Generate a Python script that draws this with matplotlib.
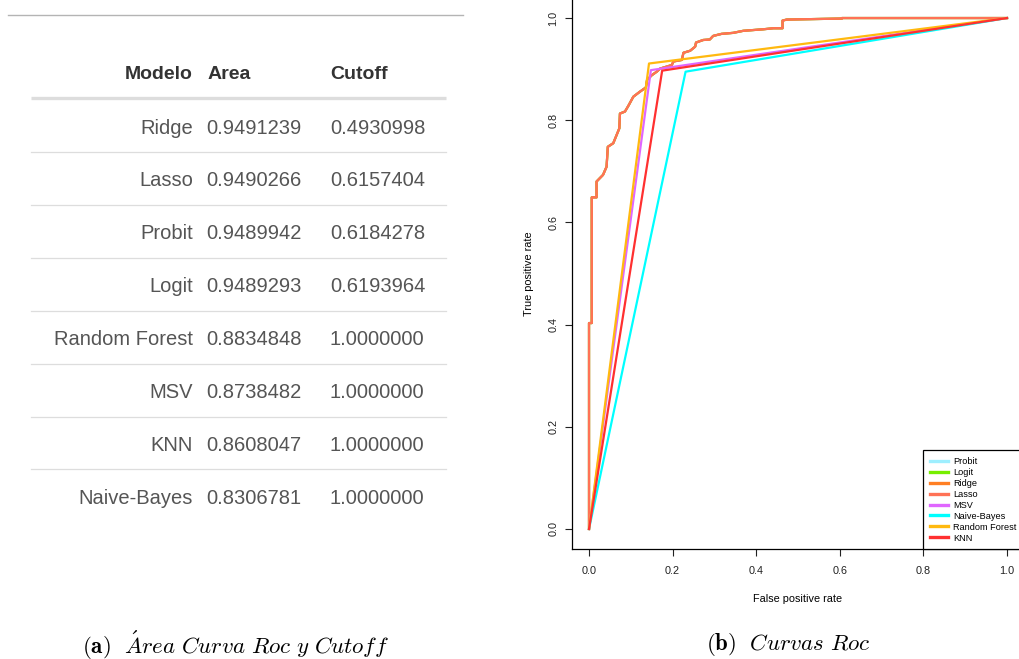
import matplotlib
matplotlib.use('Agg')
import matplotlib.pyplot as plt

# tabla (a)
modelos = ['Ridge', 'Lasso', 'Probit', 'Logit', 'Random Forest', 'MSV', 'KNN', 'Naive-Bayes']
areas = [0.9491239, 0.9490266, 0.9489942, 0.9489293, 0.8834848, 0.8738482, 0.8608047, 0.8306781]
cutoffs = [0.4930998, 0.6157404, 0.6184278, 0.6193964, 1.0, 1.0, 1.0, 1.0]

# curvas roc (b)
nombres_roc = ['Probit', 'Logit', 'Ridge', 'Lasso', 'MSV', 'Naive-Bayes', 'Random Forest', 'KNN']
colores_roc = ['#9eefff', '#76ee00', '#ff7f24', '#ff7256', '#e066ff', '#00ffff', '#ffb90f', '#ff3030']

# modelos logisticos: curva escalonada (casi identica para los cuatro)
fpr_glm = [0, 0, 0.0065, 0.0065, 0.018, 0.018, 0.0335, 0.042, 0.045, 0.058, 0.066, 0.0725, 0.074,
           0.086, 0.094, 0.106, 0.122, 0.136, 0.139, 0.150, 0.162, 0.170, 0.198, 0.202, 0.222,
           0.226, 0.242, 0.254, 0.256, 0.273, 0.289, 0.297, 0.317, 0.345, 0.369, 0.417, 0.441,
           0.463, 0.463, 0.473, 0.605, 0.605, 1.0]
tpr_glm = [0, 0.403, 0.403, 0.649, 0.649, 0.68, 0.693, 0.709, 0.748, 0.755, 0.771, 0.784, 0.813,
           0.817, 0.828, 0.846, 0.856, 0.864, 0.879, 0.888, 0.895, 0.901, 0.908, 0.915, 0.918,
           0.932, 0.936, 0.944, 0.952, 0.957, 0.958, 0.965, 0.969, 0.971, 0.975, 0.978, 0.98,
           0.98, 0.995, 0.997, 0.999, 1.0, 1.0]

# modelos con un solo punto de corte
fpr_msv = [0, 0.148, 1]
tpr_msv = [0, 0.898, 1]
fpr_nb = [0, 0.231, 1]
tpr_nb = [0, 0.895, 1]
fpr_rf = [0, 0.1435, 1]
tpr_rf = [0, 0.911, 1]
fpr_knn = [0, 0.175, 1]
tpr_knn = [0, 0.897, 1]

curvas = [(fpr_glm, tpr_glm), (fpr_glm, tpr_glm), (fpr_glm, tpr_glm), (fpr_glm, tpr_glm),
          (fpr_msv, tpr_msv), (fpr_nb, tpr_nb), (fpr_rf, tpr_rf), (fpr_knn, tpr_knn)]

plt.rcParams['mathtext.fontset'] = 'cm'
plt.rcParams['font.family'] = ['Liberation Sans', 'DejaVu Sans']

fig = plt.figure(figsize=(10.2, 6.59), dpi=100)

#### Tabla
ax_t = fig.add_axes([0, 0, 470 / 1020, 1])
ax_t.set_xlim(0, 470)
ax_t.set_ylim(659, 0)
ax_t.axis('off')

ax_t.plot([8, 463], [15, 15], color='#b4b4b4', lw=1)

base_cab = 79.3
ax_t.text(193, base_cab, 'Modelo', ha='right', va='baseline', fontsize=14, fontweight='bold', color='#333333')
ax_t.text(208, base_cab, 'Area', ha='left', va='baseline', fontsize=14, fontweight='bold', color='#333333')
ax_t.text(330, base_cab, 'Cutoff', ha='left', va='baseline', fontsize=14, fontweight='bold', color='#333333')
ax_t.plot([31, 446], [97.7, 97.7], color='#dddddd', lw=2.4, solid_capstyle='butt')

base0 = 133.5
paso = 52.9
for i in range(len(modelos)):
  yb = base0 + i * paso
  ax_t.text(193, yb, modelos[i], ha='right', va='baseline', fontsize=14.5, color='#555555')
  ax_t.text(206, yb, '%.7f' % areas[i], ha='left', va='baseline', fontsize=14.5, color='#555555')
  ax_t.text(330, yb, '%.7f' % cutoffs[i], ha='left', va='baseline', fontsize=14.5, color='#555555')
  if i < len(modelos) - 1:
    ax_t.plot([31, 446], [yb + 18.5, yb + 18.5], color='#dddddd', lw=0.9)

fig.text(235 / 1020, 1 - 645 / 659, r'$\mathbf{(a)}\ \ \acute{A}rea\ Curva\ Roc\ y\ Cutoff$',
         ha='center', va='center', fontsize=16.5)

#### Grafico Roc
ax = fig.add_axes([572.3 / 1020, 109.6 / 659, 451.4 / 1020, 551.8 / 659])
for i in range(len(nombres_roc)):
  fpr, tpr = curvas[i]
  ax.plot(fpr, tpr, color=colores_roc[i], lw=1.6, label=nombres_roc[i])

ax.set_xlim(-0.04, 1.04)
ax.set_ylim(-0.04, 1.04)
ticks = [0, 0.2, 0.4, 0.6, 0.8, 1.0]
ax.set_xticks(ticks)
ax.set_yticks(ticks)
ax.set_xticklabels(['%.1f' % t for t in ticks])
ax.set_yticklabels(['%.1f' % t for t in ticks])
ax.tick_params(direction='out', length=5, width=0.8, labelsize=7.8, colors='#222222')
ax.tick_params(axis='x', pad=7)
ax.tick_params(axis='y', pad=5)
plt.setp(ax.get_yticklabels(), rotation=90, va='center')
for s in ax.spines.values():
  s.set_linewidth(0.9)

ax.set_xlabel('False positive rate', fontsize=7.8)
ax.set_ylabel('True positive rate', fontsize=7.8)
ax.xaxis.set_label_coords(0.5, -0.081)
ax.yaxis.set_label_coords(-0.085, 0.5)

leg = ax.legend(loc='lower right', bbox_to_anchor=(1, 0), borderaxespad=0,
                frameon=True, fancybox=False, edgecolor='black', framealpha=1,
                handlelength=2.0, handletextpad=0.6, labelspacing=0.21, borderpad=0.75,
                prop={'size': 6.6})
leg.get_frame().set_linewidth(0.9)
for l in leg.get_lines():
  l.set_linewidth(2.4)

fig.text(788 / 1020, 1 - 645 / 659, r'$\mathbf{(b)}\ \ Curvas\ Roc$',
         ha='center', va='center', fontsize=16.5)

plt.savefig('out.png', dpi=100)
